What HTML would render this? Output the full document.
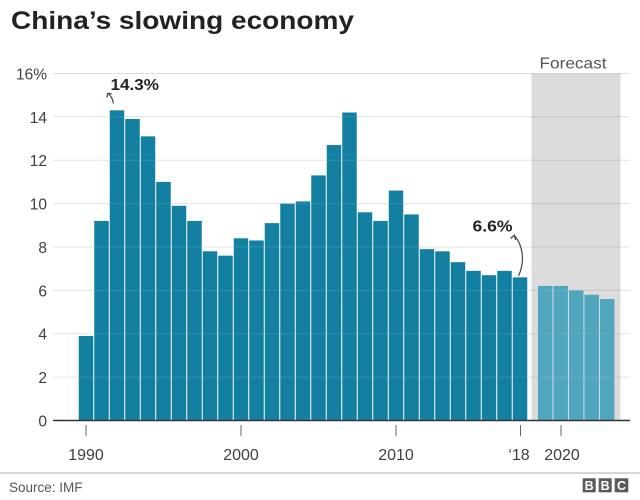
<!DOCTYPE html>
<html>
<head>
<meta charset="utf-8">
<style>
  html, body { margin: 0; padding: 0; background: #fff; }
  body { width: 640px; height: 500px; overflow: hidden; }
  svg { display: block; }
  text { font-family: "Liberation Sans", Arial, sans-serif; }
</style>
</head>
<body>
<svg width="640" height="500" viewBox="0 0 640 500" xmlns="http://www.w3.org/2000/svg">
  <rect x="0" y="0" width="640" height="500" fill="#fff"/>

  <!-- Title -->
  <text x="11" y="29" font-size="25" font-weight="bold" fill="#222" textLength="343" lengthAdjust="spacingAndGlyphs">China’s slowing economy</text>

  <!-- Forecast band -->
  <rect x="531.5" y="73.5" width="89" height="347" fill="#dcdcdc"/>
  <text x="573" y="68.5" font-size="16" fill="#555" text-anchor="middle" textLength="67" lengthAdjust="spacingAndGlyphs">Forecast</text>

  <!-- Gridlines -->
  <g stroke="#000" stroke-opacity="0.12" stroke-width="1">
    <line x1="53" y1="73.5" x2="630" y2="73.5"/>
    <line x1="53" y1="116.8" x2="630" y2="116.8"/>
    <line x1="53" y1="160.2" x2="630" y2="160.2"/>
    <line x1="53" y1="203.6" x2="630" y2="203.6"/>
    <line x1="53" y1="247" x2="630" y2="247"/>
    <line x1="53" y1="290.4" x2="630" y2="290.4"/>
    <line x1="53" y1="333.7" x2="630" y2="333.7"/>
    <line x1="53" y1="377.1" x2="630" y2="377.1"/>
  </g>

  <!-- Y labels -->
  <g font-size="15.5" fill="#404040" text-anchor="end">
    <text x="47" y="79.5">16%</text>
    <text x="47" y="122.8">14</text>
    <text x="47" y="166.2">12</text>
    <text x="47" y="209.6">10</text>
    <text x="47" y="253">8</text>
    <text x="47" y="296.4">6</text>
    <text x="47" y="339.7">4</text>
    <text x="47" y="383.1">2</text>
    <text x="47" y="426.5">0</text>
  </g>

  <!-- Historical bars -->
  <g fill="#1380a1">
    <rect x="78.75" y="335.91" width="14.5" height="84.59"/>
    <rect x="94.25" y="220.95" width="14.5" height="199.55"/>
    <rect x="109.75" y="110.33" width="14.5" height="310.17"/>
    <rect x="125.25" y="119.01" width="14.5" height="301.49"/>
    <rect x="140.75" y="136.36" width="14.5" height="284.14"/>
    <rect x="156.25" y="181.91" width="14.5" height="238.59"/>
    <rect x="171.75" y="205.77" width="14.5" height="214.73"/>
    <rect x="187.25" y="220.95" width="14.5" height="199.55"/>
    <rect x="202.75" y="251.32" width="14.5" height="169.18"/>
    <rect x="218.25" y="255.66" width="14.5" height="164.84"/>
    <rect x="233.75" y="238.30" width="14.5" height="182.20"/>
    <rect x="249.25" y="240.47" width="14.5" height="180.03"/>
    <rect x="264.75" y="223.12" width="14.5" height="197.38"/>
    <rect x="280.25" y="203.60" width="14.5" height="216.90"/>
    <rect x="295.75" y="201.43" width="14.5" height="219.07"/>
    <rect x="311.25" y="175.40" width="14.5" height="245.10"/>
    <rect x="326.75" y="145.04" width="14.5" height="275.46"/>
    <rect x="342.25" y="112.50" width="14.5" height="308.00"/>
    <rect x="357.75" y="212.28" width="14.5" height="208.22"/>
    <rect x="373.25" y="220.95" width="14.5" height="199.55"/>
    <rect x="388.75" y="190.59" width="14.5" height="229.91"/>
    <rect x="404.25" y="214.44" width="14.5" height="206.06"/>
    <rect x="419.75" y="249.15" width="14.5" height="171.35"/>
    <rect x="435.25" y="251.32" width="14.5" height="169.18"/>
    <rect x="450.75" y="262.16" width="14.5" height="158.34"/>
    <rect x="466.25" y="270.84" width="14.5" height="149.66"/>
    <rect x="481.75" y="275.18" width="14.5" height="145.32"/>
    <rect x="497.25" y="270.84" width="14.5" height="149.66"/>
    <rect x="512.75" y="277.35" width="14.5" height="143.15"/>
  </g>

  <!-- Forecast bars -->
  <g fill="#4fa6bd">
    <rect x="537.95" y="286.02" width="14.5" height="134.48"/>
    <rect x="553.45" y="286.02" width="14.5" height="134.48"/>
    <rect x="568.95" y="290.36" width="14.5" height="130.14"/>
    <rect x="584.45" y="294.70" width="14.5" height="125.80"/>
    <rect x="599.95" y="299.04" width="14.5" height="121.46"/>
  </g>

  <!-- Faint gridline overlay on bars -->
  <g stroke="#fff" stroke-opacity="0.12" stroke-width="1">
    <line x1="53" y1="116.8" x2="620" y2="116.8"/>
    <line x1="53" y1="160.2" x2="620" y2="160.2"/>
    <line x1="53" y1="203.6" x2="620" y2="203.6"/>
    <line x1="53" y1="247" x2="620" y2="247"/>
    <line x1="53" y1="290.4" x2="620" y2="290.4"/>
    <line x1="53" y1="333.7" x2="620" y2="333.7"/>
    <line x1="53" y1="377.1" x2="620" y2="377.1"/>
  </g>

  <!-- Baseline -->
  <line x1="53" y1="420.5" x2="630" y2="420.5" stroke="#333" stroke-width="1.6"/>

  <!-- Ticks -->
  <g stroke="#666" stroke-width="1">
    <line x1="86" y1="425" x2="86" y2="436"/>
    <line x1="241" y1="425" x2="241" y2="436"/>
    <line x1="396" y1="425" x2="396" y2="436"/>
    <line x1="520.5" y1="425" x2="520.5" y2="436"/>
    <line x1="561" y1="425" x2="561" y2="436"/>
  </g>

  <!-- X labels -->
  <g font-size="16" fill="#404040" text-anchor="middle">
    <text x="86" y="460">1990</text>
    <text x="241" y="460">2000</text>
    <text x="396" y="460">2010</text>
    <text x="519" y="460">‘18</text>
    <text x="562" y="460">2020</text>
  </g>

  <!-- Annotation 14.3% -->
  <text x="110.5" y="90" font-size="16" font-weight="bold" fill="#222" textLength="48.5" lengthAdjust="spacingAndGlyphs">14.3%</text>
  <path d="M113.5,103.5 Q112.5,97 108,93.5" fill="none" stroke="#444" stroke-width="1.2"/>
  <path d="M106.8,97.6 L107.8,93.3 L111.8,93.8" fill="none" stroke="#444" stroke-width="1.2"/>

  <!-- Annotation 6.6% -->
  <text x="472.5" y="231.5" font-size="16" font-weight="bold" fill="#222" textLength="40" lengthAdjust="spacingAndGlyphs">6.6%</text>
  <path d="M518.5,276 C524.5,263 524,247 514.5,235.5" fill="none" stroke="#444" stroke-width="1.2"/>
  <path d="M510.5,238.5 L514.3,235.2 L515.6,240" fill="none" stroke="#444" stroke-width="1.2"/>

  <!-- Footer -->
  <line x1="0" y1="473" x2="640" y2="473" stroke="#ccc" stroke-width="1.5"/>
  <text x="9" y="492" font-size="13.5" fill="#555">Source: IMF</text>

  <!-- BBC logo -->
  <g>
    <rect x="582.7" y="478.3" width="13" height="14" fill="#5a5a5a"/>
    <rect x="598.7" y="478.3" width="13" height="14" fill="#5a5a5a"/>
    <rect x="614.7" y="478.3" width="13.6" height="14" fill="#5a5a5a"/>
    <g font-size="12.5" font-weight="bold" fill="#fff" text-anchor="middle">
      <text x="589.2" y="490">B</text>
      <text x="605.2" y="490">B</text>
      <text x="621.5" y="490">C</text>
    </g>
  </g>
</svg>
</body>
</html>
